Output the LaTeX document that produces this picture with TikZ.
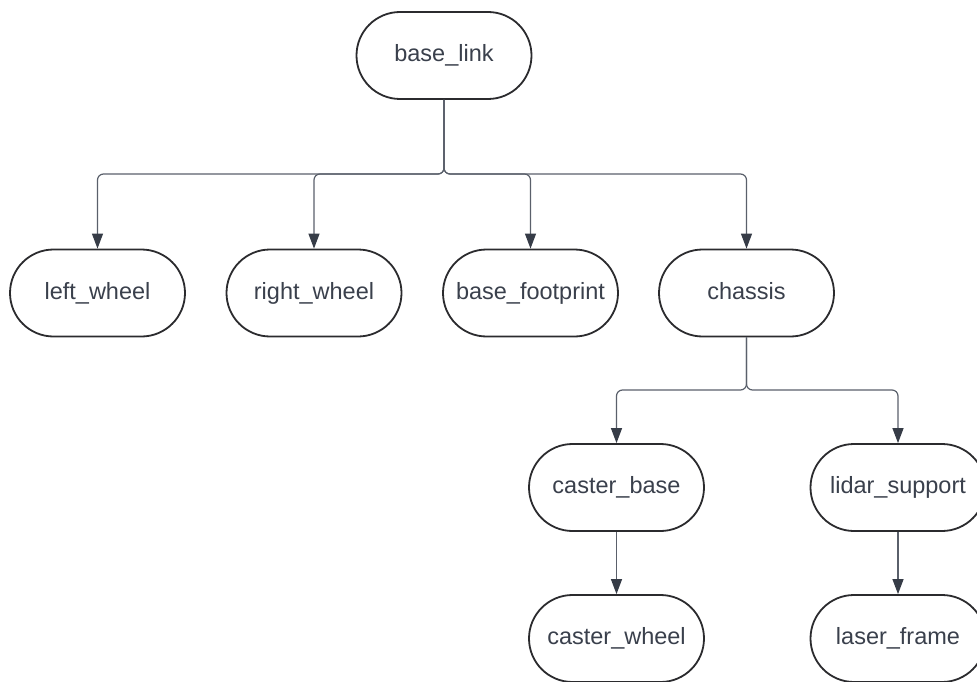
\documentclass[tikz,border=0pt]{standalone}
\usepackage{fontspec}
\setmainfont{Liberation Sans}
\usetikzlibrary{arrows.meta}
\definecolor{nodeborder}{HTML}{2B2B2E}
\definecolor{txt}{HTML}{3A404C}
\definecolor{wire}{HTML}{5A606B}
\definecolor{tip}{HTML}{363C47}
\begin{document}
\begin{tikzpicture}[x=1pt,y=-1pt,
  link/.style={draw=nodeborder, line width=1.8pt, fill=white, rounded corners=43.5pt,
    minimum width=175pt, minimum height=87pt, inner sep=0pt, text=txt,
    text height=17pt, text depth=5pt,
    font=\fontsize{23.5}{28}\selectfont},
  conn/.style={draw=wire, line width=1.2pt, rounded corners=6pt,
    -{Triangle[width=11pt,length=15pt,color=tip]}}
  ]
\useasboundingbox (0,0) rectangle (977,682);
\node[link] (base) at (444,55.5) {base\_link};
\node[link] (lw) at (97.5,293) {left\_wheel};
\node[link] (rw) at (314,293) {right\_wheel};
\node[link] (bf) at (530.5,293) {base\_footprint};
\node[link] (ch) at (746.5,293) {chassis};
\node[link] (cb) at (616.5,487.5) {caster\_base};
\node[link] (ls) at (898,487.5) {lidar\_support};
\node[link] (cw) at (616.5,638.5) {caster\_wheel};
\node[link] (lf) at (898,638.5) {laser\_frame};
\coordinate (j1) at (444,174);
\coordinate (j2) at (746.5,390);
\foreach \c in {lw,rw,bf,ch}
  \draw[conn] (base.south) -- (j1) -| (\c.north);
\foreach \c in {cb,ls}
  \draw[conn] (ch.south) -- (j2) -| (\c.north);
\draw[conn] (cb.south) -- (cw.north);
\draw[conn] (ls.south) -- (lf.north);
\end{tikzpicture}
\end{document}
